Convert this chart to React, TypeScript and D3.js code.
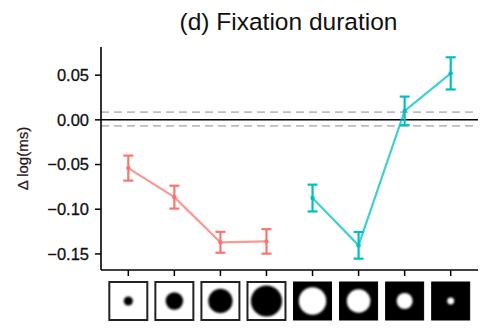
import * as d3 from 'd3'

// x categories: 8 stimulus conditions (4 dark-on-light, 4 light-on-dark)
const conditions = ['b1', 'b2', 'b3', 'b4', 'w1', 'w2', 'w3', 'w4']
// relative disc diameter in each stimulus (fraction of the box)
const stimulusSize = [0.24, 0.46, 0.64, 0.82, 0.72, 0.62, 0.42, 0.18]
const stimulusPolarity = ['dark', 'dark', 'dark', 'dark', 'light', 'light', 'light', 'light']

// series values: mean and standard error
const darkMean = [-0.054, -0.0865, -0.137, -0.136]
const darkErr = [0.014, 0.0128, 0.0117, 0.0137]
const lightMean = [-0.0875, -0.1404, 0.01, 0.052]
const lightErr = [0.015, 0.0149, 0.016, 0.018]

// reference band (dashed) around zero
const refLines = [0.0086, -0.0067]
const yTicks = [0.05, 0, -0.05, -0.1, -0.15]

const W = 481
const H = 332
const font = '"Liberation Sans", Arial, sans-serif'

export default function App() {
    const margin = { top: 47, right: 3, bottom: 62, left: 101 }
    const x = d3
        .scalePoint<string>()
        .domain(conditions)
        .range([margin.left, W - margin.right])
        .padding(0.593)
    const y = d3
        .scaleLinear()
        .domain([-0.168, 0.0815])
        .range([H - margin.bottom, margin.top])
    const fmt = d3.format('.2f')

    const series = [
        { color: '#F8766D', keys: conditions.slice(0, 4), mean: darkMean, err: darkErr },
        { color: '#00BFC4', keys: conditions.slice(4), mean: lightMean, err: lightErr },
    ]
    const line = d3
        .line<[string, number]>()
        .x((d) => x(d[0]) as number)
        .y((d) => y(d[1]))

    const x0 = margin.left
    const x1 = W - margin.right
    const yBottom = H - margin.bottom
    const box = 38
    const boxTop = 282

    return (
        <svg
            width={W}
            height={H}
            style={{ position: 'absolute', left: 0, top: 0, background: '#fff' }}
        >
            <defs>
                <filter id="soft" x="-50%" y="-50%" width="200%" height="200%">
                    <feGaussianBlur stdDeviation="0.9" />
                </filter>
            </defs>
            <text
                x={(x0 + x1) / 2 - 1}
                y={30}
                textAnchor="middle"
                fontFamily={font}
                fontSize={24.5}
                fill="#111"
            >
                (d) Fixation duration
            </text>

            {/* reference lines */}
            {refLines.map((v, i) => (
                <line
                    key={i}
                    x1={x0}
                    x2={x1}
                    y1={y(v)}
                    y2={y(v)}
                    stroke="#bdbdbd"
                    strokeWidth={1.6}
                    strokeDasharray="8,5"
                />
            ))}
            <line x1={x0} x2={x1} y1={y(0)} y2={y(0)} stroke="#000" strokeWidth={1.5} />

            {/* series */}
            {series.map((s, si) => (
                <g key={si}>
                    <path
                        d={line(s.keys.map((k, i) => [k, s.mean[i]])) || ''}
                        fill="none"
                        stroke={s.color}
                        strokeWidth={2.2}
                        strokeOpacity={0.75}
                    />
                    {s.keys.map((k, i) => {
                        const cx = x(k) as number
                        const lo = y(s.mean[i] - s.err[i])
                        const hi = y(s.mean[i] + s.err[i])
                        return (
                            <g key={k} stroke={s.color} strokeWidth={2.2}>
                                <line x1={cx} x2={cx} y1={lo} y2={hi} />
                                <line x1={cx - 5} x2={cx + 5} y1={lo} y2={lo} />
                                <line x1={cx - 5} x2={cx + 5} y1={hi} y2={hi} />
                                <circle cx={cx} cy={y(s.mean[i])} r={2.2} fill={s.color} stroke="none" />
                            </g>
                        )
                    })}
                </g>
            ))}

            {/* y axis */}
            <line x1={x0} x2={x0} y1={margin.top} y2={yBottom} stroke="#000" strokeWidth={1.6} />
            {yTicks.map((t) => (
                <g key={t}>
                    <line x1={x0 - 6} x2={x0} y1={y(t)} y2={y(t)} stroke="#000" strokeWidth={1.5} />
                    <text
                        x={x0 - 12}
                        y={y(t)}
                        dy="0.36em"
                        textAnchor="end"
                        fontFamily={font}
                        fontSize={16.5}
                        fill="#111"
                        stroke="#111"
                        strokeWidth={0.3}
                    >
                        {fmt(t)}
                    </text>
                </g>
            ))}
            <text
                transform={`translate(28,${(margin.top + yBottom) / 2}) rotate(-90)`}
                textAnchor="middle"
                fontFamily={font}
                fontSize={15}
                fill="#2a1a1a"
                stroke="#2a1a1a"
                strokeWidth={0.25}
            >
                Δ log(ms)
            </text>

            {/* x axis */}
            <line x1={x0} x2={x1} y1={yBottom} y2={yBottom} stroke="#000" strokeWidth={1.6} />
            {conditions.map((c, i) => {
                const cx = x(c) as number
                const dark = stimulusPolarity[i] === 'dark'
                return (
                    <g key={c}>
                        <line x1={cx} x2={cx} y1={yBottom} y2={yBottom + 6} stroke="#000" strokeWidth={1.5} />
                        <rect
                            x={cx - box / 2}
                            y={boxTop}
                            width={box}
                            height={box}
                            fill={dark ? '#fff' : '#000'}
                            stroke={dark ? '#222' : '#000'}
                            strokeWidth={dark ? 2 : 1}
                        />
                        <circle
                            cx={cx}
                            cy={boxTop + box / 2}
                            r={(stimulusSize[i] * box) / 2}
                            fill={dark ? '#000' : '#fff'}
                            filter="url(#soft)"
                        />
                    </g>
                )
            })}
        </svg>
    )
}
